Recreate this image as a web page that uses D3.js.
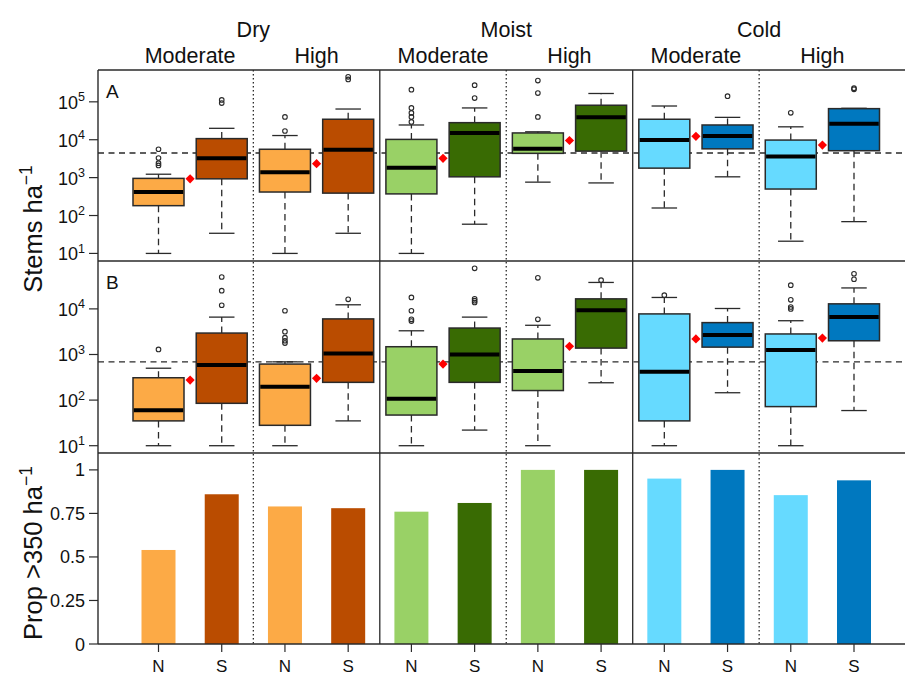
<!DOCTYPE html>
<html><head><meta charset="utf-8">
<script src="https://cdn.jsdelivr.net/npm/d3@7"></script>
<style>
body{margin:0;background:#fff}
text{font-family:"Liberation Sans",Arial,Helvetica,sans-serif;fill:#111}
</style>
</head><body>
<svg id="chart" width="905" height="677"></svg>
<script>
// ---------- categories ----------
const climates = ["Dry", "Moist", "Cold"];
const severities = ["Moderate", "High"];
const aspects = ["N", "S"];
const lightColors = ["#FCAA46", "#99D166", "#66DAFF"];   // N aspect
const darkColors  = ["#BA4C00", "#396B03", "#0078BF"];   // S aspect

// group order: Dry-Mod-N, Dry-Mod-S, Dry-High-N, Dry-High-S, Moist-Mod-N, ... Cold-High-S
// ---------- Panel A (stems per ha) ----------
const aLow  = [10, 34, 10, 34, 10, 59, 760, 725, 158, 1050, 21, 69];
const aQ1   = [182, 930, 417, 390, 372, 1050, 4370, 5000, 1780, 5750, 500, 5130];
const aMed  = [417, 3240, 1380, 5400, 1820, 15100, 5750, 38900, 9800, 12600, 3630, 26300];
const aQ3   = [955, 10700, 5600, 34700, 10200, 28200, 15100, 81300, 34700, 24500, 9800, 66100];
const aHigh = [1230, 20000, 12900, 64600, 24500, 69000, 16200, 166000, 77600, 38900, 21900, 67600];
const aOut  = [
  [5600, 3300, 2400, 2100], [112000, 93000], [40000, 17000], [457000, 390000],
  [209000, 69000, 51000, 40000, 29500], [275000, 126000], [363000, 170000, 40000], [],
  [], [141000], [51300], [229000, 214000]
];
const aMean = [930, 2340, 3240, 9550, 12300, 7240];   // per climate x severity pair
const aRef = 4470;

// ---------- Panel B (stems per ha) ----------
const bLow  = [10, 10, 10, 35, 10, 22, 10, 240, 10, 145, 10, 59];
const bQ1   = [35, 85, 28, 245, 47, 245, 162, 1380, 35, 1450, 72, 2000];
const bMed  = [60, 590, 195, 1050, 107, 1000, 437, 9300, 417, 2690, 1260, 6600];
const bQ3   = [309, 2950, 617, 6030, 1480, 3800, 2190, 16600, 7760, 5000, 2820, 12900];
const bHigh = [500, 6600, 690, 12300, 3310, 6600, 4370, 38000, 17800, 10200, 5500, 28800];
const bOut  = [
  [1290], [50000, 25100, 12000], [9100, 3160, 2340, 2000, 1780], [16200],
  [17800, 9100, 5900, 5400], [77600, 16600, 15100, 13800], [47900, 5900], [42700],
  [20000], [], [33100, 15800, 11000, 10000], [58900, 44700]
];
const bMean = [275, 300, 617, 1510, 2190, 2290];
const bRef = 690;

// ---------- Panel C (proportion > 350 ha-1) ----------
const propAbove = [0.54, 0.86, 0.79, 0.78, 0.76, 0.81, 1.0, 1.0, 0.95, 1.0, 0.855, 0.94];

// ---------- ticks ----------
const logTicksA = [10, 100, 1000, 10000, 100000];
const logTicksB = [10, 100, 1000, 10000];
const propTicks = [0, 0.25, 0.5, 0.75, 1];
const propTickLabels = ["0", "0.25", "0.5", "0.75", "1"];

// ---------- layout ----------
const svg = d3.select("#chart");
const left = 98, right = 915;
const topA = 70, botA = 261, botB = 453, botC = 644;

const groups = [];
climates.forEach((c, ci) => severities.forEach((s, si) => aspects.forEach((a, ai) => {
  groups.push({climate: c, ci, severity: s, aspect: a, ai, pos: groups.length + 1});
})));

const x = d3.scaleLinear().domain([1, 12]).range([158.5, 854]);
const yA = d3.scaleLog().domain([Math.pow(10, 0.8), Math.pow(10, 5.84)]).range([botA, topA]);
const yB = d3.scaleLog().domain([Math.pow(10, 0.84), Math.pow(10, 5.05)]).range([botB, botA]);
const yC = d3.scaleLinear().domain([0, 1.097]).range([botC, botB]);

const fillOf = g => g.ai === 0 ? lightColors[g.ci] : darkColors[g.ci];
const boxW = 51;
const ink = "#2a2a2a";

function drawBoxPanel(y, low, q1, med, q3, high, outs, means, ref, yTop, yBot, letter, ticks) {
  const gp = svg.append("g");
  // reference line
  gp.append("line").attr("x1", left).attr("x2", right)
    .attr("y1", y(ref)).attr("y2", y(ref))
    .attr("stroke", ink).attr("stroke-width", 1.3).attr("stroke-dasharray", "6,4.5");
  groups.forEach((g, i) => {
    const cx = x(g.pos);
    // whiskers
    gp.append("line").attr("x1", cx).attr("x2", cx).attr("y1", y(q3[i])).attr("y2", y(high[i]))
      .attr("stroke", ink).attr("stroke-width", 1.3).attr("stroke-dasharray", "6.5,4.5");
    gp.append("line").attr("x1", cx).attr("x2", cx).attr("y1", y(q1[i])).attr("y2", y(low[i]))
      .attr("stroke", ink).attr("stroke-width", 1.3).attr("stroke-dasharray", "6.5,4.5");
    [low[i], high[i]].forEach(v => {
      gp.append("line").attr("x1", cx - boxW / 4).attr("x2", cx + boxW / 4)
        .attr("y1", y(v)).attr("y2", y(v)).attr("stroke", ink).attr("stroke-width", 1.3);
    });
    // box
    gp.append("rect").attr("x", cx - boxW / 2).attr("width", boxW)
      .attr("y", y(q3[i])).attr("height", y(q1[i]) - y(q3[i]))
      .attr("fill", fillOf(g)).attr("stroke", ink).attr("stroke-width", 1.5);
    gp.append("line").attr("x1", cx - boxW / 2 + 0.8).attr("x2", cx + boxW / 2 - 0.8)
      .attr("y1", y(med[i])).attr("y2", y(med[i])).attr("stroke", "#000").attr("stroke-width", 4);
    // outliers
    outs[i].forEach(v => {
      gp.append("circle").attr("cx", cx).attr("cy", y(v)).attr("r", 2.3)
        .attr("fill", "none").attr("stroke", ink).attr("stroke-width", 1.1);
    });
  });
  // means (red diamonds between N and S)
  means.forEach((m, k) => {
    const cx = x(2 * k + 1.5), cy = y(m), r = 4.6;
    gp.append("path").attr("d", `M${cx},${cy - r}L${cx + r},${cy}L${cx},${cy + r}L${cx - r},${cy}Z`)
      .attr("fill", "#FF0000");
  });
  // y ticks
  ticks.forEach(t => {
    const ty = y(t);
    gp.append("line").attr("x1", 89).attr("x2", left).attr("y1", ty).attr("y2", ty)
      .attr("stroke", ink).attr("stroke-width", 1.2);
    const txt = gp.append("text").attr("x", 85).attr("y", ty + 7).attr("text-anchor", "end");
    txt.append("tspan").attr("font-size", 18).text("10");
    txt.append("tspan").attr("font-size", 12.5).attr("dy", -7.5).text(Math.round(Math.log10(t)));
  });
  gp.append("text").attr("x", 106).attr("y", yTop + 28).attr("font-size", 19).text(letter);
}

drawBoxPanel(yA, aLow, aQ1, aMed, aQ3, aHigh, aOut, aMean, aRef, topA, botA, "A", logTicksA);
drawBoxPanel(yB, bLow, bQ1, bMed, bQ3, bHigh, bOut, bMean, bRef, botA, botB, "B", logTicksB);

// ---------- Panel C bars ----------
const gc = svg.append("g");
const barW = 34;
groups.forEach((g, i) => {
  gc.append("rect").attr("x", x(g.pos) - barW / 2).attr("width", barW)
    .attr("y", yC(propAbove[i])).attr("height", yC(0) - yC(propAbove[i]))
    .attr("fill", fillOf(g));
});
propTicks.forEach((t, k) => {
  const ty = yC(t);
  gc.append("line").attr("x1", 89).attr("x2", left).attr("y1", ty).attr("y2", ty)
    .attr("stroke", ink).attr("stroke-width", 1.2);
  gc.append("text").attr("x", 85).attr("y", ty + 6.5).attr("text-anchor", "end")
    .attr("font-size", 18).text(propTickLabels[k]);
});
groups.forEach(g => {
  gc.append("line").attr("x1", x(g.pos)).attr("x2", x(g.pos)).attr("y1", botC).attr("y2", botC + 8)
    .attr("stroke", ink).attr("stroke-width", 1.2);
  gc.append("text").attr("x", x(g.pos)).attr("y", 672).attr("text-anchor", "middle")
    .attr("font-size", 17).text(g.aspect);
});

// ---------- frame & dividers ----------
const gf = svg.append("g");
[topA, botA, botB, botC].forEach(yy => {
  gf.append("line").attr("x1", left).attr("x2", right).attr("y1", yy).attr("y2", yy)
    .attr("stroke", ink).attr("stroke-width", 1.4);
});
gf.append("line").attr("x1", left).attr("x2", left).attr("y1", topA).attr("y2", botC)
  .attr("stroke", ink).attr("stroke-width", 1.4);
[4.5, 8.5].forEach(p => {
  gf.append("line").attr("x1", x(p)).attr("x2", x(p)).attr("y1", topA).attr("y2", botC)
    .attr("stroke", ink).attr("stroke-width", 1.3);
});
[2.5, 6.5, 10.5].forEach(p => {
  gf.append("line").attr("x1", x(p)).attr("x2", x(p)).attr("y1", topA).attr("y2", botC)
    .attr("stroke", ink).attr("stroke-width", 1.3).attr("stroke-dasharray", "1.5,2.5");
});

// ---------- headers ----------
climates.forEach((c, ci) => {
  svg.append("text").attr("x", x(4 * ci + 2.5)).attr("y", 37).attr("text-anchor", "middle")
    .attr("font-size", 21.5).text(c);
  severities.forEach((s, si) => {
    svg.append("text").attr("x", x(4 * ci + 2 * si + 1.5)).attr("y", 62.5).attr("text-anchor", "middle")
      .attr("font-size", 21.5).text(s);
  });
});

// ---------- axis titles ----------
const t1 = svg.append("text").attr("transform", "translate(41.5,229) rotate(-90)")
  .attr("text-anchor", "middle").attr("font-size", 25.5);
t1.append("tspan").text("Stems ha");
t1.append("tspan").attr("font-size", 17.5).attr("dy", -10).text("\u22121");

const t2 = svg.append("text").attr("transform", "translate(41.5,553) rotate(-90)")
  .attr("text-anchor", "middle").attr("font-size", 25.5);
t2.append("tspan").text("Prop >350 ha");
t2.append("tspan").attr("font-size", 17.5).attr("dy", -10).text("\u22121");
</script>
</body></html>
